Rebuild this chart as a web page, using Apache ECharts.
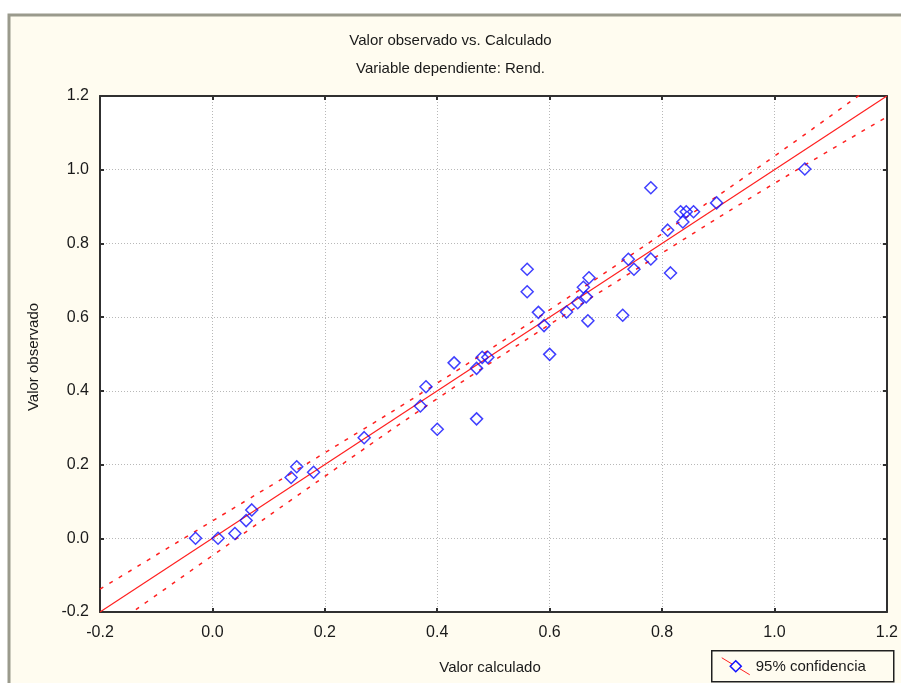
<!DOCTYPE html>
<html>
<head>
<meta charset="utf-8">
<title>Valor observado vs. Calculado</title>
<script src="https://cdn.jsdelivr.net/npm/echarts@6/dist/echarts.min.js"></script>
<style>
    html, body { margin: 0; padding: 0; background: #ffffff; }
    #chart { width: 901px; height: 683px; }
</style>
</head>
<body>
<div id="chart"></div>
<script>
// Datos
const calculado = [
    -0.03, 0.01, 0.04, 0.06, 0.07, 0.14, 0.15, 0.18, 0.27, 0.37,
    0.38, 0.40, 0.43, 0.47, 0.47, 0.48, 0.49, 0.56, 0.56, 0.60,
    0.58, 0.59, 0.63, 0.65, 0.66, 0.665, 0.67, 0.668, 0.73, 0.74,
    0.75, 0.78, 0.78, 0.815, 0.81, 0.833, 0.843, 0.856, 0.837, 0.897,
    1.054
];
const observado = [
    0.00, 0.00, 0.013, 0.048, 0.077, 0.165, 0.194, 0.179, 0.273, 0.359,
    0.411, 0.296, 0.476, 0.324, 0.461, 0.491, 0.491, 0.730, 0.669, 0.499,
    0.613, 0.577, 0.614, 0.639, 0.681, 0.655, 0.707, 0.590, 0.605, 0.757,
    0.730, 0.758, 0.951, 0.720, 0.836, 0.886, 0.886, 0.886, 0.858, 0.910,
    1.002
];

// Recta de regresion y bandas de confianza del 95%
const xRecta = [-0.2, 1.2];
const yRecta = [-0.2, 1.2];
const xBanda = [-0.2, 0.0, 0.2, 0.4, 0.6, 0.8, 1.0, 1.2];
const bandaSup = [-0.138, 0.047, 0.232, 0.421, 0.620, 0.826, 1.037, 1.257];
const bandaInf = [-0.262, -0.047, 0.168, 0.379, 0.580, 0.774, 0.963, 1.143];

const colores = {
    texto: '#1a1a1a',
    eje: '#303030',
    rejilla: '#b8b8b8',
    rojo: '#ff2020',
    azul: '#1010ff',
    fondo: '#fffcf0',
    marco: '#9a9a8c'
};

const fuente = 'Liberation Sans, Arial, sans-serif';

const chart = echarts.init(document.getElementById('chart'));

function ejeX(pos) {
    return {
        type: 'value',
        position: pos,
        min: -0.2,
        max: 1.2,
        interval: 0.2,
        axisLine: { show: true, onZero: false, lineStyle: { color: colores.eje, width: 2 } },
        axisTick: { show: true, inside: true, length: 4, lineStyle: { color: colores.eje, width: 2 } },
        axisLabel: {
            show: pos === 'bottom',
            color: colores.texto,
            fontFamily: fuente,
            fontSize: 16,
            margin: 13,
            formatter: v => v.toFixed(1)
        },
        splitLine: { show: pos === 'bottom', lineStyle: { color: colores.rejilla, type: [1, 2], width: 1 } }
    };
}

function ejeY(pos) {
    return {
        type: 'value',
        position: pos,
        min: -0.2,
        max: 1.2,
        interval: 0.2,
        axisLine: { show: true, onZero: false, lineStyle: { color: colores.eje, width: 2 } },
        axisTick: { show: true, inside: true, length: 4, lineStyle: { color: colores.eje, width: 2 } },
        axisLabel: {
            show: pos === 'left',
            color: colores.texto,
            fontFamily: fuente,
            fontSize: 16,
            margin: 11,
            formatter: v => v.toFixed(1)
        },
        splitLine: { show: pos === 'left', lineStyle: { color: colores.rejilla, type: [1, 2], width: 1 } }
    };
}

const option = {
    backgroundColor: '#ffffff',
    animation: false,
    graphic: [
        {
            type: 'rect',
            z: -10,
            shape: { x: 9, y: 15, width: 900, height: 680 },
            style: { fill: colores.fondo, stroke: colores.marco, lineWidth: 3 }
        },
        {
            type: 'text',
            left: 'center',
            top: 33,
            style: { text: 'Valor observado vs. Calculado', font: '15px ' + fuente, fill: colores.texto }
        },
        {
            type: 'text',
            left: 'center',
            top: 61,
            style: { text: 'Variable dependiente: Rend.', font: '15px ' + fuente, fill: colores.texto }
        },
        {
            type: 'text',
            x: 490,
            y: 668,
            style: { text: 'Valor calculado', font: '15px ' + fuente, fill: colores.texto, align: 'center', verticalAlign: 'middle' }
        },
        {
            type: 'text',
            x: 34,
            y: 357,
            rotation: Math.PI / 2,
            style: { text: 'Valor observado', font: '15px ' + fuente, fill: colores.texto, align: 'center', verticalAlign: 'middle' }
        },
        {
            type: 'group',
            left: 711,
            top: 650,
            children: [
                {
                    type: 'rect',
                    shape: { x: 0, y: 0, width: 182, height: 31 },
                    style: { fill: colores.fondo, stroke: '#202020', lineWidth: 1.5 }
                },
                {
                    type: 'line',
                    shape: { x1: 10, y1: 7, x2: 38, y2: 24 },
                    style: { stroke: colores.rojo, lineWidth: 1 }
                },
                {
                    type: 'polygon',
                    shape: { points: [[24, 10], [29.5, 15.5], [24, 21], [18.5, 15.5]] },
                    style: { fill: colores.fondo, stroke: colores.azul, lineWidth: 1.5 }
                },
                {
                    type: 'text',
                    x: 44,
                    y: 16,
                    style: { text: '95% confidencia', font: '15px ' + fuente, fill: colores.texto, verticalAlign: 'middle' }
                }
            ]
        }
    ],
    grid: {
        left: 100,
        top: 96,
        right: 12,
        bottom: 71,
        show: true,
        backgroundColor: '#ffffff',
        borderWidth: 0
    },
    xAxis: [ejeX('bottom'), ejeX('top')],
    yAxis: [ejeY('left'), ejeY('right')],
    series: [
        {
            name: 'Recta',
            type: 'line',
            data: xRecta.map((x, i) => [x, yRecta[i]]),
            symbol: 'none',
            lineStyle: { color: colores.rojo, width: 1.2 },
            z: 3
        },
        {
            name: 'Banda superior',
            type: 'line',
            data: xBanda.map((x, i) => [x, bandaSup[i]]),
            smooth: true,
            symbol: 'none',
            clip: true,
            lineStyle: { color: colores.rojo, width: 1.5, type: [4, 7] },
            z: 3
        },
        {
            name: 'Banda inferior',
            type: 'line',
            data: xBanda.map((x, i) => [x, bandaInf[i]]),
            smooth: true,
            symbol: 'none',
            clip: true,
            lineStyle: { color: colores.rojo, width: 1.5, type: [4, 7] },
            z: 3
        },
        {
            name: 'Observado',
            type: 'scatter',
            data: calculado.map((x, i) => [x, observado[i]]),
            symbol: 'diamond',
            symbolSize: [12, 12],
            itemStyle: { color: 'rgba(255,255,255,0)', borderColor: colores.azul, borderWidth: 1.5 },
            z: 4
        }
    ]
};

chart.setOption(option);
</script>
</body>
</html>
